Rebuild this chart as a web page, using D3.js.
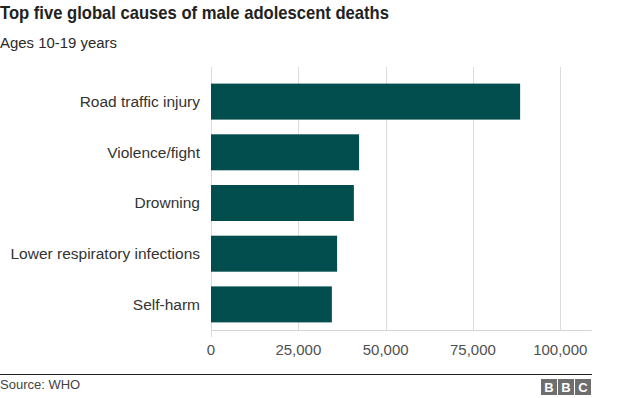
<!DOCTYPE html>
<html>
<head>
<meta charset="utf-8">
<script src="https://cdn.jsdelivr.net/npm/d3@7"></script>
<style>
  body { margin: 0; background: #fff; }
  svg { display: block; font-family: "Liberation Sans", Arial, Helvetica, sans-serif; }
</style>
</head>
<body>
<div id="chart"></div>
<script>
const causes = ["Road traffic injury", "Violence/fight", "Drowning", "Lower respiratory infections", "Self-harm"];
const deaths = [88500, 42400, 40900, 36100, 34600];
const tickValues = [0, 25000, 50000, 75000, 100000];

const width = 624;
const height = 398;

const svg = d3.select("#chart").append("svg")
    .attr("width", width)
    .attr("height", height);

// Title + subtitle
svg.append("text")
    .attr("x", 0).attr("y", 19)
    .attr("font-size", 19)
    .attr("font-weight", "bold")
    .attr("fill", "#222")
    .attr("textLength", 389)
    .attr("lengthAdjust", "spacingAndGlyphs")
    .text("Top five global causes of male adolescent deaths");

svg.append("text")
    .attr("x", 0).attr("y", 48)
    .attr("font-size", 15.5)
    .attr("fill", "#2a2a2a")
    .attr("textLength", 117)
    .attr("lengthAdjust", "spacingAndGlyphs")
    .text("Ages 10-19 years");

const x = d3.scaleLinear()
    .domain([0, 100000])
    .range([211, 560.3]);

const y = d3.scaleBand()
    .domain(causes)
    .range([76, 330])
    .paddingInner(0.29)
    .paddingOuter(0.15);

// Gridlines
svg.append("g")
    .selectAll("line")
    .data(tickValues)
    .join("line")
    .attr("x1", d => Math.round(x(d)) + 0.5)
    .attr("x2", d => Math.round(x(d)) + 0.5)
    .attr("y1", 67)
    .attr("y2", d => d === 0 ? 337 : 330)
    .attr("stroke", "#dcdcdc")
    .attr("stroke-width", 1);

// Baseline
svg.append("line")
    .attr("x1", x(0)).attr("x2", x(109000))
    .attr("y1", 330.5).attr("y2", 330.5)
    .attr("stroke", "#d4d4d4");

// Bars
svg.append("g")
    .selectAll("rect")
    .data(causes)
    .join("rect")
    .attr("x", x(0))
    .attr("y", d => y(d))
    .attr("width", (d, i) => x(deaths[i]) - x(0))
    .attr("height", y.bandwidth())
    .attr("fill", "#024d4d");

// Category labels
svg.append("g")
    .selectAll("text")
    .data(causes)
    .join("text")
    .attr("x", 200)
    .attr("y", d => y(d) + y.bandwidth() / 2)
    .attr("dy", "0.35em")
    .attr("text-anchor", "end")
    .attr("font-size", 15.5)
    .attr("fill", "#333")
    .text(d => d);

// X tick labels
svg.append("g")
    .selectAll("text")
    .data(tickValues)
    .join("text")
    .attr("x", d => x(d))
    .attr("y", 355)
    .attr("text-anchor", "middle")
    .attr("font-size", 15)
    .attr("fill", "#505050")
    .text(d => d3.format(",")(d));

// Footer
svg.append("line")
    .attr("x1", 0).attr("x2", 592)
    .attr("y1", 374.5).attr("y2", 374.5)
    .attr("stroke", "#222");

svg.append("text")
    .attr("x", 0).attr("y", 389)
    .attr("font-size", 13)
    .attr("fill", "#444")
    .text("Source: WHO");

const logo = svg.append("g").attr("transform", "translate(541,379)");
["B", "B", "C"].forEach((ch, i) => {
    logo.append("rect")
        .attr("x", i * 17).attr("y", 0)
        .attr("width", 16).attr("height", 16)
        .attr("fill", "#6e6e6e");
    logo.append("text")
        .attr("x", i * 17 + 8).attr("y", 13)
        .attr("text-anchor", "middle")
        .attr("font-size", 13)
        .attr("font-weight", "bold")
        .attr("fill", "#fff")
        .text(ch);
});
</script>
</body>
</html>
